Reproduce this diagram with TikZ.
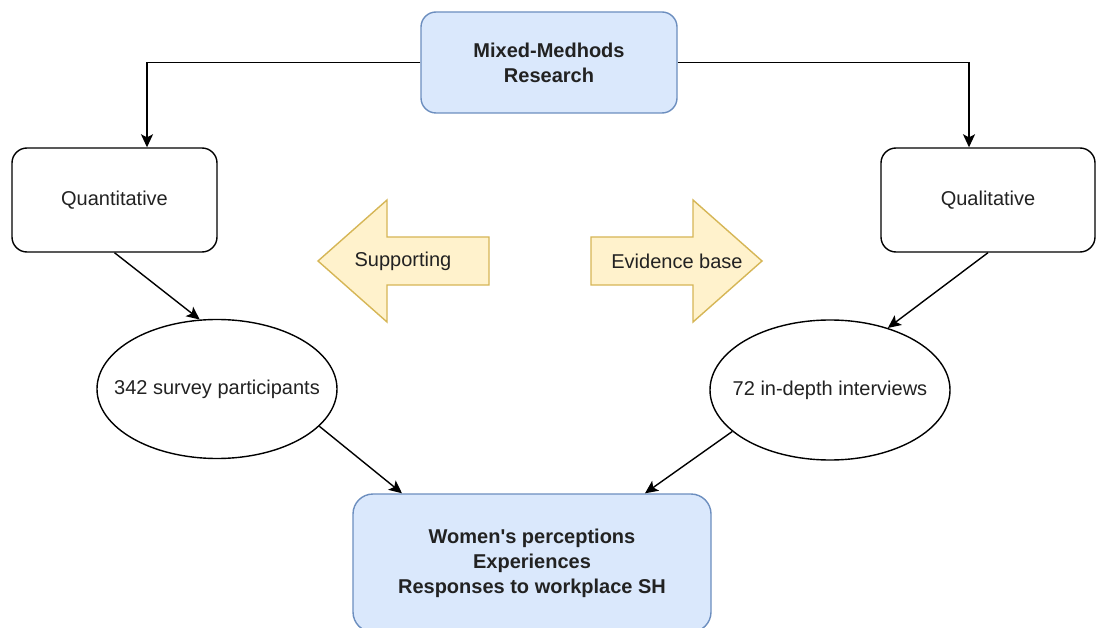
\documentclass[tikz,border=0pt]{standalone}
\usepackage{fontspec}
\setmainfont{Liberation Sans}
\usetikzlibrary{arrows.meta,shapes.geometric}
\definecolor{bluefill}{HTML}{DAE8FC}
\definecolor{bluestroke}{HTML}{6C8EBF}
\definecolor{yelfill}{HTML}{FFF2CC}
\definecolor{yelstroke}{HTML}{D6B656}
\definecolor{txt}{HTML}{222222}
\begin{document}
\begin{tikzpicture}[x=1pt,y=-1pt,
  every node/.style={font=\fontsize{20}{24.5}\selectfont, text=txt},
  boldtext/.style={font=\fontsize{20}{25}\selectfont\bfseries},
  rbox/.style={draw=black, line width=1.4pt, rounded corners=15pt, align=center, inner sep=0pt},
  bluebox/.style={rbox, fill=bluefill, draw=bluestroke, boldtext},
  oval/.style={draw=black, ellipse, line width=1.4pt, inner sep=0pt},
  conn/.style={line width=1.4pt, draw=black, -{Stealth[length=13pt,width=12pt,inset=3pt]}},
  yarrow/.style={fill=yelfill, draw=yelstroke, line width=1.4pt, line join=miter}]
\clip (0,0) rectangle (1097,628);
\fill[white] (0,0) rectangle (1097,628);

% yellow arrows
\path[yarrow] (318,261) -- (387,200) -- (387,237) -- (489,237) -- (489,285) -- (387,285) -- (387,322) -- cycle;
\path[yarrow] (762,261) -- (693,200) -- (693,237) -- (591,237) -- (591,285) -- (693,285) -- (693,322) -- cycle;
\node (support) at (403,261) {Supporting};
\node (evidence) at (677,261) {Evidence base};

% nodes
\node[bluebox, minimum width=256pt, minimum height=101pt] (mixed) at (549,62.5) {Mixed-Medhods\\Research};
\node[rbox, minimum width=205pt, minimum height=104pt] (quant) at (114.5,200) {Quantitative};
\node[rbox, minimum width=214pt, minimum height=104pt] (qual) at (988,200) {Qualitative};
\node[oval, minimum width=240pt, minimum height=139pt] (survey) at (217,389) {\makebox[0pt]{342 survey participants}};
\node[oval, minimum width=240pt, minimum height=140pt] (interviews) at (830,390) {\makebox[0pt]{72 in-depth interviews}};
\node[bluebox, rounded corners=20pt, minimum width=358pt, minimum height=138pt] (women) at (532,563) {Women\textquotesingle s perceptions\\Experiences\\Responses to workplace SH};

% connectors
\draw[conn] (mixed.west) -| ([xshift=32.5pt]quant.north);
\draw[conn] (mixed.east) -| ([xshift=-19pt]qual.north);
\draw[conn] (quant.south) -- (survey.104);
\draw[conn] (qual.south) -- (interviews.47);
\draw[conn] (survey.-20) -- ([xshift=-130pt]women.north);
\draw[conn] (interviews.-157) -- ([xshift=113pt]women.north);
\end{tikzpicture}
\end{document}
